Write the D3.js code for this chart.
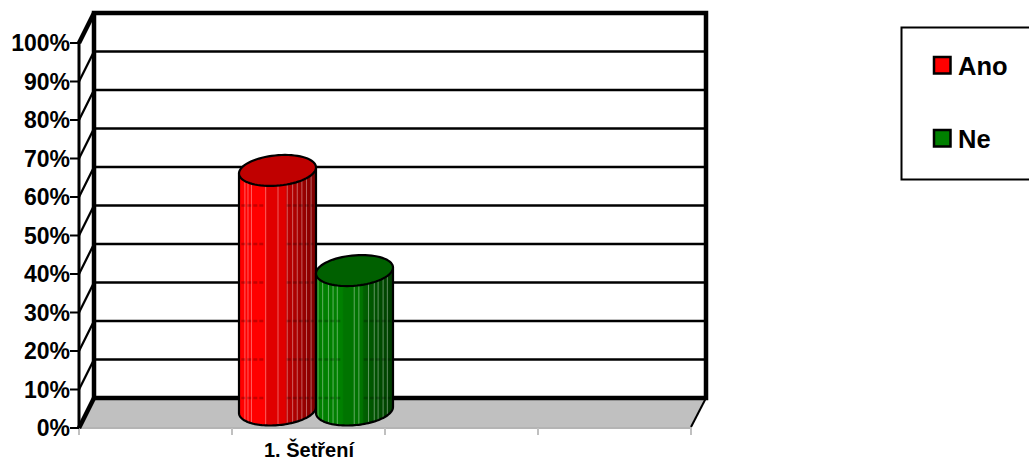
<!DOCTYPE html>
<html lang="cs">
<head>
<meta charset="utf-8">
<script src="https://cdn.jsdelivr.net/npm/d3@7"></script>
<style>
  html, body { margin: 0; padding: 0; background: #fff; }
  svg { display: block; }
  text { font-family: "Liberation Sans", Arial, sans-serif; font-weight: bold; fill: #000; }
</style>
</head>
<body>
<div id="chart"></div>
<script>
// Survey result: one category, two answers, drawn as 3D cylinders.
const categories = ["1. Šetření", "", "", ""];
const seriesNames = ["Ano", "Ne"];
const seriesValues = [63, 37];
const seriesBright = ["#ff0000", "#008000"];
const seriesMid = ["#e00000", "#007400"];
const seriesDark = ["#7c0000", "#003c00"];
const seriesTop = ["#c00000", "#006000"];
const yTicks = [0, 10, 20, 30, 40, 50, 60, 70, 80, 90, 100];
// Pale facets across each cylinder, as a share of its width.
const facetsAno = [0.07, 0.11, 0.155, 0.34, 0.5, 0.62, 0.69, 0.75, 0.81, 0.87, 0.93];
const facetsNe = [0.02, 0.08, 0.155, 0.215, 0.27, 0.49, 0.55, 0.675, 0.75, 0.8, 0.865, 0.92];
const facetStops = [facetsAno, facetsNe];

const width = 1029, height = 461;
const depth = { dx: 15, dy: -30 };

const y = d3.scaleLinear().domain([0, 100]).range([428, 43]);
const x = d3.scaleBand().domain(d3.range(categories.length)).range([79, 691]);
const [x0, x1] = x.range();

const svg = d3.select("#chart").append("svg")
  .attr("width", width).attr("height", height);
const defs = svg.append("defs");

// Floor
svg.append("polygon")
  .attr("points", [[x0, y(0)], [x0 + depth.dx, y(0) + depth.dy],
                   [x1 + depth.dx, y(0) + depth.dy], [x1, y(0)]].join(" "))
  .attr("fill", "#c0c0c0");

// Category axis along the floor's front edge
svg.append("line").attr("x1", x0).attr("x2", x1)
  .attr("y1", y(0)).attr("y2", y(0)).attr("stroke", "#b4b4b4").attr("stroke-width", 2);
d3.range(categories.length + 1).forEach(i => {
  const tx = x0 + i * x.step();
  svg.append("line").attr("x1", tx).attr("x2", tx).attr("y1", y(0)).attr("y2", y(0) + 7)
    .attr("stroke", "#c0c0c0").attr("stroke-width", 2);
});
svg.append("text").attr("x", 309).attr("y", 456.5)
  .attr("text-anchor", "middle").attr("font-size", 20).text(categories[0]);

// Rules on the side wall and back wall
yTicks.slice(1).forEach(t => {
  svg.append("line")
    .attr("x1", x0).attr("y1", y(t))
    .attr("x2", x0 + depth.dx).attr("y2", y(t) + depth.dy)
    .attr("stroke", "#000").attr("stroke-width", t === 100 ? 4.5 : 2.2);
  if (t < 100) svg.append("line")
    .attr("x1", x0 + depth.dx).attr("y1", y(t) + depth.dy)
    .attr("x2", x1 + depth.dx).attr("y2", y(t) + depth.dy)
    .attr("stroke", "#000").attr("stroke-width", 2.4);
});

// Heavy frame of the back wall
svg.append("path")
  .attr("d", d3.line()([[x0 + depth.dx, y(0) + depth.dy],
                        [x0 + depth.dx, y(100) + depth.dy],
                        [x1 + depth.dx, y(100) + depth.dy],
                        [x1 + depth.dx, y(0) + depth.dy]]) + "Z")
  .attr("fill", "none").attr("stroke", "#000").attr("stroke-width", 4.5);

// Front edge of the side wall and the floor's slanted edges
svg.append("line").attr("x1", x0).attr("x2", x0)
  .attr("y1", y(0)).attr("y2", y(100)).attr("stroke", "#000").attr("stroke-width", 3);
svg.append("line").attr("x1", x0).attr("y1", y(0))
  .attr("x2", x0 + depth.dx).attr("y2", y(0) + depth.dy)
  .attr("stroke", "#000").attr("stroke-width", 4.5);
svg.append("line").attr("x1", x1).attr("y1", y(0) - 1)
  .attr("x2", x1 + depth.dx).attr("y2", y(0) + depth.dy)
  .attr("stroke", "#000").attr("stroke-width", 2);

// Value axis
yTicks.forEach(t => {
  svg.append("line").attr("x1", 70).attr("x2", x0).attr("y1", y(t)).attr("y2", y(t))
    .attr("stroke", "#000").attr("stroke-width", 2);
  svg.append("text").attr("x", 70).attr("y", y(t) + 8)
    .attr("text-anchor", "end").attr("font-size", 23).text(t + "%");
});

// Cylinders: an ellipse inscribed in the depth parallelogram caps each one
const barX = d3.scaleBand().domain(seriesNames).range([239, 393]);
const skew = 7.5, ry = 15.5;
const ellipsePoint = (cx, cy, halfW, a) => {
  const ax = Math.sqrt(halfW * halfW - skew * skew);
  return [cx + ax * Math.cos(a) + skew * Math.sin(a), cy - ry * Math.sin(a)];
};

seriesNames.forEach((name, i) => {
  const w = barX.bandwidth(), left = barX(name), cx = left + w / 2, h = w / 2;
  const cyTop = y(seriesValues[i]) - 15;
  const cyBase = y(0) - 18;
  const tilt = Math.atan2(skew, Math.sqrt(h * h - skew * skew));

  const grad = defs.append("linearGradient").attr("id", "shade" + i);
  [[0, seriesBright[i]], [0.34, seriesBright[i]], [0.36, seriesMid[i]], [0.6, seriesMid[i]],
   [0.62, seriesTop[i]], [1, seriesDark[i]]]
    .forEach(([o, c]) => grad.append("stop").attr("offset", o).attr("stop-color", c));

  // Silhouette: up the left tangent, round the base from the left to the right tangent
  const arc = d3.range(0, 61).map(k =>
    ellipsePoint(cx, cyBase, h, Math.PI + tilt + k / 60 * Math.PI));
  const topLeft = ellipsePoint(cx, cyTop, h, Math.PI + tilt);
  const topRight = ellipsePoint(cx, cyTop, h, tilt);
  const bodyPath = d3.line()([topLeft, ...arc, topRight]) + "Z";

  const clipId = "body" + i;
  defs.append("clipPath").attr("id", clipId).append("path").attr("d", bodyPath);

  const g = svg.append("g");
  g.append("path").attr("d", bodyPath).attr("fill", `url(#shade${i})`);
  const facets = g.append("g").attr("clip-path", `url(#${clipId})`);
  facetStops[i].forEach(f => facets.append("rect")
    .attr("x", left + f * w).attr("y", cyTop).attr("width", 1).attr("height", cyBase - cyTop + 20)
    .attr("fill", "#fff").attr("opacity", 0.38));
  // The back-wall rules show faintly where they pass behind the cylinder
  yTicks.filter(t => y(t) + depth.dy > cyTop + 16).forEach(t =>
    [[0.03, 0.34], [0.62, 0.97]].forEach(([a, b]) => facets.append("line")
      .attr("x1", left + a * w).attr("x2", left + b * w)
      .attr("y1", y(t) + depth.dy).attr("y2", y(t) + depth.dy)
      .attr("stroke", "#000").attr("stroke-width", 2.4)
      .attr("stroke-dasharray", "4 2").attr("opacity", 0.22)));
  g.append("path").attr("d", bodyPath).attr("fill", "none")
    .attr("stroke", "#000").attr("stroke-width", 2.2).attr("stroke-linejoin", "round");
  const cap = d3.range(0, 72).map(k => ellipsePoint(cx, cyTop, h, k / 72 * 2 * Math.PI));
  g.append("path").attr("d", d3.line()(cap) + "Z")
    .attr("fill", seriesTop[i]).attr("stroke", "#000").attr("stroke-width", 2.2);
});

// Legend
svg.append("rect").attr("x", 901.5).attr("y", 27.5).attr("width", 140).attr("height", 152)
  .attr("fill", "#fff").attr("stroke", "#000").attr("stroke-width", 2);
const legendY = d3.scalePoint().domain(seriesNames).range([65.5, 138.5]);
seriesNames.forEach((name, i) => {
  svg.append("rect").attr("x", 934).attr("y", legendY(name) - 8.5).attr("width", 16.5).attr("height", 16.5)
    .attr("fill", seriesBright[i]).attr("stroke", "#000").attr("stroke-width", 2.5);
  svg.append("text").attr("x", 958).attr("y", legendY(name) + 9)
    .attr("font-size", 25.5).text(name);
});
</script>
</body>
</html>
